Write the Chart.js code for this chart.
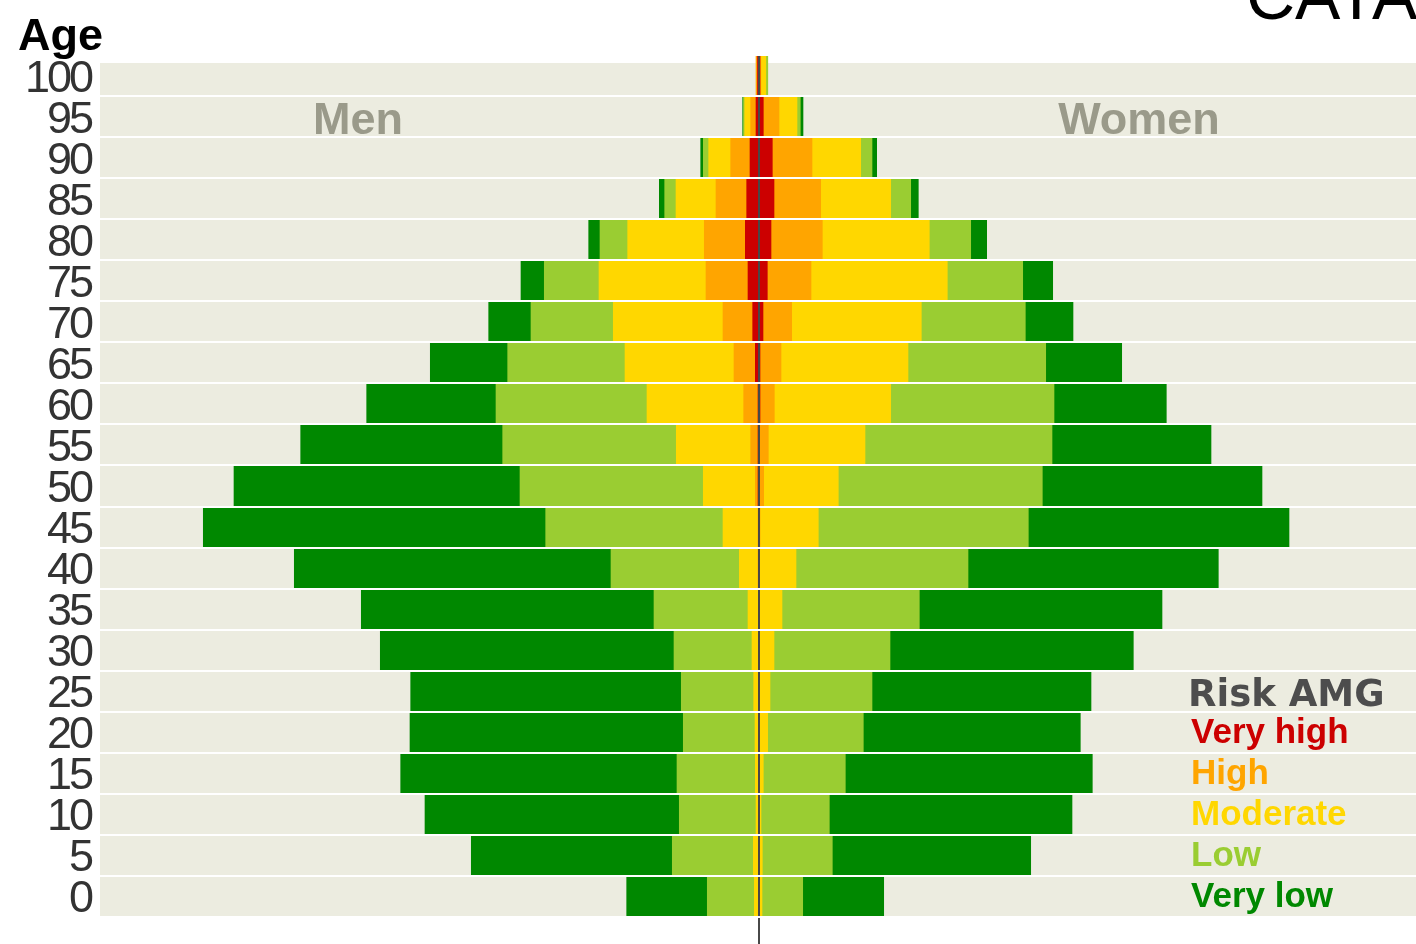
<!DOCTYPE html>
<html>
<head>
<meta charset="utf-8">
<title>Risk AMG pyramid</title>
<script src="https://cdn.jsdelivr.net/npm/chart.js@4.4.1/dist/chart.umd.min.js"></script>
<style>
  html, body { margin: 0; padding: 0; background: #fff; }
  #wrap { width: 1416px; height: 944px; }
</style>
</head>
<body>
<div id="wrap"><canvas id="pyramid" width="1416" height="944"></canvas></div>
<script>
/* =========================
   DATA (thousands of people)
========================= */

const ages = ["0", "5", "10", "15", "20", "25", "30", "35", "40", "45", "50",
  "55", "60", "65", "70", "75", "80", "85", "90", "95", "100"];

const riskLabels = ["Very high", "High", "Moderate", "Low", "Very low"];

// men, one value per age group (0 ... 100)
const menVeryHigh = [0, 0, 0, 0, 0, 0, 0, 0, 0, 0, 0.15, 0.25, 0.5, 1.85, 3.15, 5.5, 6.85, 6.15, 4.5, 1.5, 0.75];
const menHigh     = [0, 0, 0, 0, 0, 0, 0, 0, 0.25, 0.5, 1.7, 3.9, 7.15, 10.65, 14.85, 21, 20.5, 15.35, 9.65, 2.65, 0.75];
const menModerate = [2.35, 2.85, 1.5, 1.85, 2, 2.65, 3.5, 5.5, 9.6, 17.5, 26, 37.2, 48.35, 54.5, 54.85, 53.5, 38.3, 20, 11, 3, 0];
const menLow      = [23.5, 40.5, 38.35, 39.15, 35.85, 36.2, 39, 47, 64.15, 88.65, 91.65, 86.8, 75.5, 58.65, 41.15, 27.35, 13.85, 5.65, 2.7, 0.6, 0];
const menVeryLow  = [40.3, 100.5, 127.15, 138.15, 136.65, 135.3, 146.85, 146.35, 158.35, 171.2, 143, 101, 64.65, 38.7, 21.15, 11.65, 5.65, 2.7, 1.3, 0.4, 0];

// women, one value per age group (0 ... 100)
const womenVeryHigh = [0, 0, 0, 0, 0, 0, 0, 0, 0, 0, 0, 0, 0.15, 0.5, 2, 4.15, 6, 7.5, 6.65, 2.15, 0.4];
const womenHigh     = [0, 0, 0, 0, 0, 0, 0, 0, 0, 0.25, 2.35, 4.65, 7.5, 10.5, 14.35, 21.85, 25.65, 23.35, 19.85, 7.85, 0.5];
const womenModerate = [1.5, 1.65, 1, 2.15, 4.35, 5.5, 7.5, 11.5, 18.5, 29.4, 37.3, 48.35, 58.2, 63.5, 64.8, 68.15, 53.5, 35, 24.35, 9, 2.5];
const womenLow      = [20.35, 35, 34.15, 41, 47.8, 51, 58, 68.65, 86, 105, 102, 93.5, 81.65, 68.85, 52, 37.7, 20.7, 10, 5.65, 1.65, 1];
const womenVeryLow  = [40.5, 99.2, 121.35, 123.5, 108.5, 109.5, 121.65, 121.35, 125.15, 130.35, 109.85, 79.5, 56.15, 38, 23.85, 15, 8, 3.8, 2.35, 1.35, 0];

const riskColors = ["#cc0000", "#ffa500", "#ffd700", "#9acd32", "#008800"];

const xMin = -329.5;
const xMax = 328.5;


/* =========================
   DATASETS
========================= */

const menSeries = [menVeryHigh, menHigh, menModerate, menLow, menVeryLow];
const womenSeries = [womenVeryHigh, womenHigh, womenModerate, womenLow, womenVeryLow];

// empty groups become null so no zero-width sliver is drawn at the stack edge
const datasets = [];

menSeries.forEach((values, i) => {
  datasets.push({
    label: "Men " + riskLabels[i],
    data: values.map(v => (v === 0 ? null : -v)),
    backgroundColor: riskColors[i]
  });
});

womenSeries.forEach((values, i) => {
  datasets.push({
    label: "Women " + riskLabels[i],
    data: values.map(v => (v === 0 ? null : v)),
    backgroundColor: riskColors[i]
  });
});


/* =========================
   PLUGINS
========================= */

const FONT = '"Liberation Sans", Arial, Helvetica, sans-serif';

// beige plot background
const plotBackground = {
  id: "plotBackground",
  beforeDraw(chart) {
    const { ctx, chartArea } = chart;
    ctx.save();
    ctx.fillStyle = "#ecece0";
    ctx.fillRect(chartArea.left, chartArea.top + 8, chartArea.right - chartArea.left, chartArea.bottom - chartArea.top - 8);
    ctx.restore();
  }
};

// age labels, side labels, legend, title
const annotations = {
  id: "annotations",
  afterDraw(chart) {
    const { ctx, chartArea } = chart;
    const yScale = chart.scales.y;
    const xScale = chart.scales.x;

    ctx.save();

    // title (cut by the right edge)
    ctx.fillStyle = "#000";
    ctx.font = "68px " + FONT;
    ctx.textAlign = "left";
    ctx.textBaseline = "alphabetic";
    ctx.fillText("CATALONIA", chartArea.right - 170, 19);

    // axis title
    ctx.font = "bold 45px " + FONT;
    ctx.fillText("Age", 18, chartArea.top - 5);

    // age ticks, tightly spaced
    ctx.fillStyle = "#333";
    ctx.font = "45px " + FONT;
    ctx.textAlign = "right";
    ctx.letterSpacing = "-3px";
    ages.forEach((age, i) => {
      const y = yScale.getPixelForValue(i);
      ctx.fillText(age, yScale.right - 9, y + 16);
    });
    ctx.letterSpacing = "0px";

    // side labels
    const rowTop = yScale.getPixelForValue(ages.length - 2);
    ctx.fillStyle = "#9a9a8a";
    ctx.font = "bold 45px " + FONT;
    ctx.textAlign = "center";
    ctx.fillText("Men", xScale.getPixelForValue(-200.5), rowTop + 17);
    ctx.fillText("Women", xScale.getPixelForValue(190), rowTop + 17);

    // legend
    const legendX = chartArea.right - 228;
    let y = yScale.getPixelForValue(5) + 15;
    ctx.textAlign = "left";
    ctx.fillStyle = "#4d4d4d";
    ctx.font = 'bold 37px "DejaVu Sans", Verdana, sans-serif';
    ctx.fillText("Risk AMG", legendX, y);
    ctx.font = "bold 35px " + FONT;
    riskLabels.forEach((label, i) => {
      y = yScale.getPixelForValue(4 - i) + 11;
      ctx.fillStyle = riskColors[i];
      ctx.fillText(label, legendX + 3, y);
    });

    ctx.restore();
  }
};


/* =========================
   CHART
========================= */

new Chart(document.getElementById("pyramid"), {
  type: "bar",
  data: { labels: ages, datasets: datasets },
  options: {
    indexAxis: "y",
    responsive: false,
    devicePixelRatio: 1,
    animation: false,
    layout: { padding: { top: 55, left: 0, right: 0, bottom: 0 } },
    datasets: {
      bar: { barPercentage: 1, categoryPercentage: 1, borderWidth: 0 }
    },
    scales: {
      x: {
        stacked: true,
        min: xMin,
        max: xMax,
        ticks: { display: false, stepSize: 50 },
        border: { display: false },
        grid: {
          z: 1,
          lineWidth: 2,
          tickLength: 27,
          drawTicks: true,
          color: ctx => (ctx.tick && ctx.tick.value === 0 ? "#484848" : "rgba(0,0,0,0)")
        }
      },
      y: {
        stacked: true,
        reverse: true,
        ticks: { display: false },
        border: { display: false },
        grid: { z: 1, color: "#ffffff", lineWidth: 2, drawTicks: false },
        afterFit(scale) { scale.width = 100; }
      }
    },
    plugins: {
      legend: { display: false },
      tooltip: { enabled: false }
    }
  },
  plugins: [plotBackground, annotations]
});
</script>
</body>
</html>
